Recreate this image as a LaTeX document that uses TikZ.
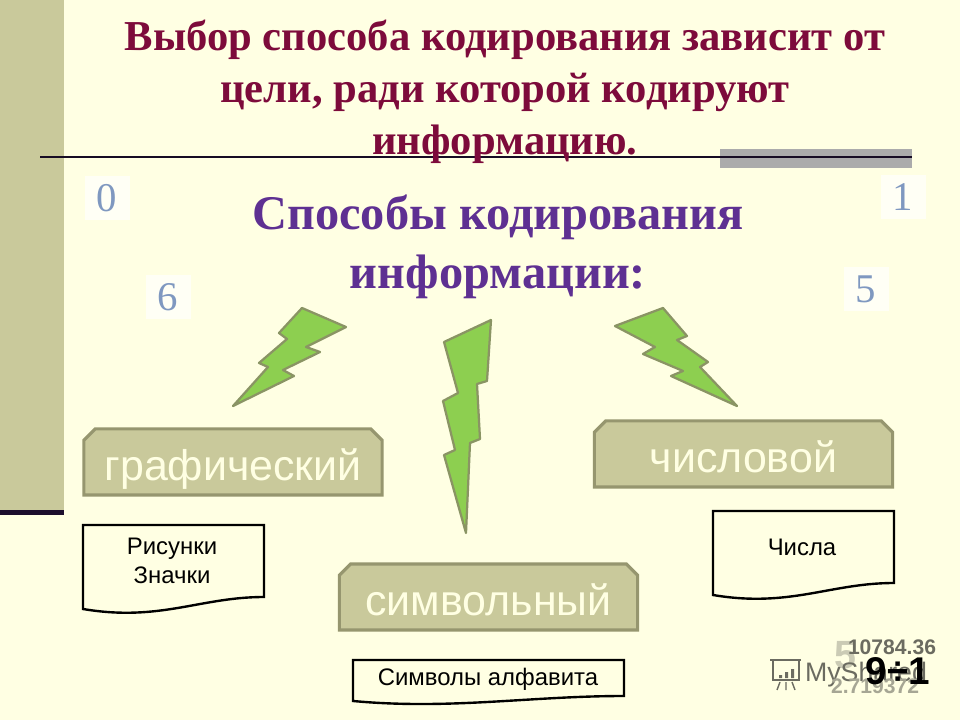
\documentclass[tikz,border=0pt]{standalone}
\usepackage{fontspec}
\setmainfont{Liberation Serif}
\setsansfont{Liberation Sans}
\usetikzlibrary{shapes.misc}
\definecolor{bgcol}{HTML}{FFFFE3}
\definecolor{barcol}{HTML}{C9C99B}
\definecolor{edgecol}{HTML}{96966F}
\definecolor{titlecol}{HTML}{7D0B3B}
\definecolor{subcol}{HTML}{5E3092}
\definecolor{boltcol}{HTML}{8DCF50}
\definecolor{boltedge}{HTML}{8A9464}
\definecolor{digitcol}{HTML}{7F98C0}
\definecolor{markcol}{HTML}{6B6B60}
\tikzset{
	catbox/.style={chamfered rectangle, chamfered rectangle corners={north west,north east}, chamfered rectangle xsep=4pt, chamfered rectangle ysep=4pt,
		draw=edgecol, line width=2.2pt, fill=barcol, text=bgcol, font=\sffamily\fontsize{30.5}{32}\selectfont, minimum width=212pt, minimum height=47pt, text height=28pt, text depth=2.2pt},
	bolt/.style={draw=boltedge, fill=boltcol, line width=1.6pt, line join=round},
	docbox/.style={draw=black, fill=bgcol, line width=1.7pt, line join=miter},
	doctext/.style={font=\sffamily\fontsize{17}{21}\selectfont, text=black, align=center},
	digit/.style={fill=white!65!bgcol, text=digitcol, font=\fontsize{29}{29}\selectfont, minimum width=32pt, minimum height=31pt, inner sep=0pt},
	titletext/.style={font=\bfseries\fontsize{30.3}{37}\selectfont, text=titlecol, align=center},
	subtext/.style={font=\bfseries\fontsize{34.4}{41.5}\selectfont, text=subcol, align=center},
	marktext/.style={font=\sffamily\bfseries\fontsize{15}{15}\selectfont, text=markcol}
}
\begin{document}
\begin{tikzpicture}[x=0.025cm,y=-0.025cm]
	\useasboundingbox (0,0) rectangle (960,720);
	\fill[bgcol] (0,0) rectangle (960,720);
	\fill[barcol] (0,0) rectangle (64,510);
	\fill[subcol!30!black] (0,510) rectangle (64,515);
	\fill[black!33] (720,149) rectangle (912,168);
	\draw[subcol!25!black, line width=1.4pt] (40,157) -- (912,157);

	\node[titletext] (title) at (505,92) {Выбор способа кодирования зависит от\\цели, ради которой кодируют\\информацию.};
	\node[subtext] (sub) at (498,247) {Способы кодирования\\информации:};

	\node[digit] (d0) at (107,198) {0};
	\node[digit] (d1) at (903,197) {1};
	\node[digit] (d6) at (168,297) {6};
	\node[digit] (d5) at (866,289) {5};

	% bolts
	\draw[bolt] (233,406) -- (268,367) -- (259,363) -- (287,339) -- (279,333) -- (302,308) -- (346,327) -- (306,347) -- (320,352) -- (283,370) -- (294,376) -- cycle;
	\draw[bolt] (491,320) -- (444,342) -- (458,393) -- (443,401) -- (455,450) -- (444,455) -- (466,533) -- (470,443) -- (480,439) -- (477,384) -- (487,381) -- cycle;
	\draw[bolt] (737,406) -- (700,367) -- (708,362) -- (677,340) -- (687,336) -- (663,308) -- (615,326) -- (655,347) -- (643,354) -- (683,371) -- (671,376) -- cycle;

	\node[catbox] (graf) at (233,462) {графический};
	\node[catbox] (chisl) at (743.5,454) {числовой};
	\node[catbox] (simv) at (488.5,597) {символьный};

	% documents
	\draw[docbox] (83,525) -- (264,525) -- (264,597) .. controls (200,597) and (160,622) .. (83,609) -- cycle;
	\node[doctext] (risunki) at (172,561) {Рисунки\\Значки};
	\draw[docbox] (713,511) -- (894,511) -- (894,583) .. controls (830,583) and (790,608) .. (713,595) -- cycle;
	\node[doctext] (chisla) at (802,547) {Числа};
	\draw[docbox] (353,660) -- (624,660) -- (624,696) .. controls (530,696) and (450,710) .. (353,701) -- cycle;
	\node[doctext] (alfavit) at (488,679) {Символы алфавита};

	% watermark
	\node[font=\sffamily\bfseries\fontsize{28}{28}\selectfont, text=markcol!35!bgcol] (five) at (845,655) {5};
	\node[font=\sffamily\fontsize{19}{20}\selectfont, text=markcol] (myshared) at (866,675) {MyShared};
	\node[font=\sffamily\bfseries\fontsize{15}{15}\selectfont, text=markcol!60!bgcol] (lowval) at (875,686) {2.719372};
	\node[marktext] (topval) at (892,647) {10784.36};
	\node[font=\sffamily\bfseries\fontsize{27.5}{28}\selectfont, text=black] (ratio) at (898,671) {9÷1};
	\draw[markcol, line width=1pt] (770,660) -- (801,660) (773,660) -- (773,680) -- (799,680) -- (799,660);
	\fill[markcol] (779,675) rectangle (782,678) (785,672) rectangle (788,678) (791,669) rectangle (794,678);
	\draw[markcol, line width=1pt] (780,682) -- (777,690) (786,682) -- (786,690) (792,682) -- (795,690);
\end{tikzpicture}
\end{document}
